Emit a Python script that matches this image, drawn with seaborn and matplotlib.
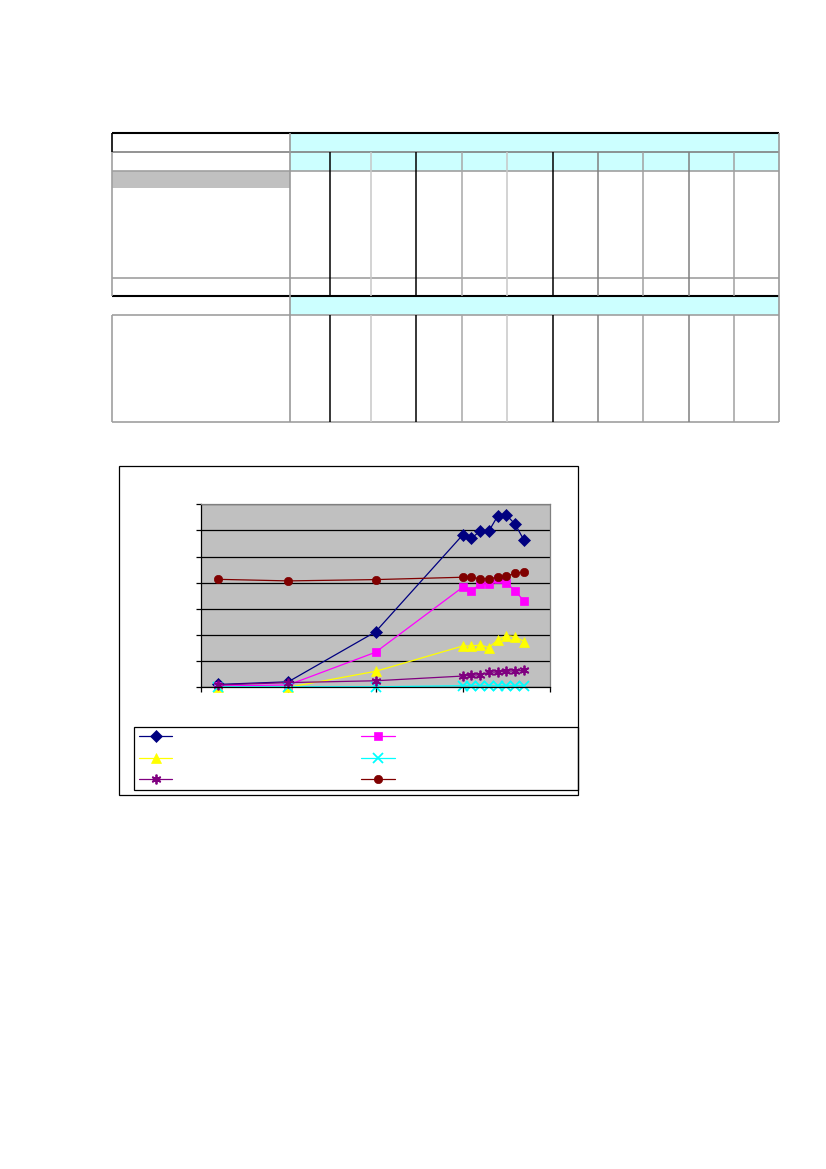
import matplotlib.pyplot as plt
import seaborn as sns
import pandas as pd
import numpy as np
from matplotlib.patches import Rectangle

sns.set_style('white')

# Data (no labels in the source, values in gridline units)
years = [1972, 1980, 1990, 2000, 2001, 2002, 2003, 2004, 2005, 2006, 2007]
navy_vals = [0.11, 0.21, 2.12, 5.83, 5.70, 5.98, 5.98, 6.55, 6.59, 6.24, 5.64]
magenta_vals = [0.05, 0.09, 1.34, 3.83, 3.69, 3.95, 3.95, 4.15, 4.00, 3.69, 3.31]
yellow_vals = [0.00, 0.00, 0.61, 1.58, 1.58, 1.62, 1.52, 1.81, 1.98, 1.94, 1.75]
cyan_vals = [0.02, 0.02, 0.02, 0.06, 0.06, 0.06, 0.06, 0.06, 0.06, 0.06, 0.06]
purple_vals = [0.09, 0.18, 0.25, 0.43, 0.47, 0.47, 0.58, 0.58, 0.62, 0.62, 0.65]
brown_vals = [4.13, 4.07, 4.12, 4.21, 4.21, 4.15, 4.15, 4.21, 4.26, 4.36, 4.41]

series = [navy_vals, magenta_vals, yellow_vals, cyan_vals, purple_vals, brown_vals]
colors = ['#000080', '#FF00FF', '#FFFF00', '#00FFFF', '#800080', '#800000']
markers = ['D', 's', '^', 'x', (6, 2, 0), 'o']
msizes = [6, 5.5, 6.5, 6.5, 7, 6]

fig = plt.figure(figsize=(8.26, 11.69), dpi=100)

# page background axes in pixel coords for the table and the chart frame
bg = fig.add_axes([0, 0, 1, 1])
bg.set_xlim(0, 826)
bg.set_ylim(1169, 0)
bg.axis('off')

cyan_fill = '#CCFFFF'
bg.add_patch(Rectangle((290, 133), 489, 19, fc=cyan_fill, ec='none'))
bg.add_patch(Rectangle((290, 152), 489, 19, fc=cyan_fill, ec='none'))
bg.add_patch(Rectangle((290, 296), 489, 19, fc=cyan_fill, ec='none'))
bg.add_patch(Rectangle((112, 171), 178, 17, fc='#C0C0C0', ec='none'))

# horizontal rules
bg.hlines(133, 112, 779, color='black', lw=1.5)
bg.hlines(152, 112, 779, color='#808080', lw=1.2)
bg.hlines([171, 278, 315, 422], 112, 779, color='#A0A0A0', lw=1.2)
bg.hlines(296, 112, 779, color='black', lw=1.5)

# outer verticals
bg.vlines(112, 133, 152, color='black', lw=1.2)
bg.vlines(112, 152, 296, color='#A0A0A0', lw=1.2)
bg.vlines(112, 315, 422, color='#A0A0A0', lw=1.2)
bg.vlines([290, 779], 133, 422, color='#999999', lw=1.2)

inner_cols = [330, 371, 416, 462, 507, 553, 598, 643, 689, 734]
inner_colors = ['black', '#C8C8C8', 'black', '#A8A8A8', '#C8C8C8',
                'black', '#808080', '#A0A0A0', '#808080', '#A0A0A0']
for xc, cc in zip(inner_cols, inner_colors):
    bg.vlines(xc, 152, 296, color=cc, lw=1.1)
    bg.vlines(xc, 315, 422, color=cc, lw=1.1)

# chart frame and legend frame
bg.add_patch(Rectangle((119, 466), 459, 329, fill=False, ec='black', lw=0.9))
bg.add_patch(Rectangle((134, 727), 444, 63, fill=False, ec='black', lw=0.9))

# line chart
ax = fig.add_axes([201 / 826, 1 - 687.3 / 1169, 349 / 826, 183 / 1169])
ax.set_facecolor('#C0C0C0')
for vals, c, m, s in zip(series, colors, markers, msizes):
    unfilled = m == 'x' or isinstance(m, tuple)
    sns.lineplot(x=years, y=vals, ax=ax, color=c, marker=m, markersize=s,
                 markeredgecolor=c, markeredgewidth=1.3 if unfilled else 0.5,
                 linewidth=0.9, legend=False, clip_on=False)

ax.set_xlim(1970, 2010)
ax.set_ylim(0, 7)
ax.set_xticks(range(1970, 2011, 10))
ax.set_yticks(range(0, 8))
ax.set_xticklabels([])
ax.set_yticklabels([])
ax.set_xlabel('')
ax.set_ylabel('')
ax.tick_params(bottom=True, left=True, direction='out', length=3.5,
               width=0.9, color='black')
ax.yaxis.grid(True, color='black', lw=0.9)
ax.xaxis.grid(False)
ax.set_axisbelow(True)
for side in ['left', 'bottom']:
    ax.spines[side].set_color('black')
    ax.spines[side].set_linewidth(0.9)
for side in ['top', 'right']:
    ax.spines[side].set_color('#808080')
    ax.spines[side].set_linewidth(0.9)

# legend: 2 columns, three rows, no text
lines = ax.get_lines()
order = [0, 2, 4, 1, 3, 5]
fig.legend([lines[i] for i in order], [' '] * 6, ncol=2, loc='upper left',
           bbox_to_anchor=(139 / 826, 1 - 730 / 1169), frameon=False,
           handlelength=2.4, columnspacing=12.5, labelspacing=0.55,
           borderpad=0, borderaxespad=0, fontsize=10)

fig.savefig('out.png', dpi=100)
